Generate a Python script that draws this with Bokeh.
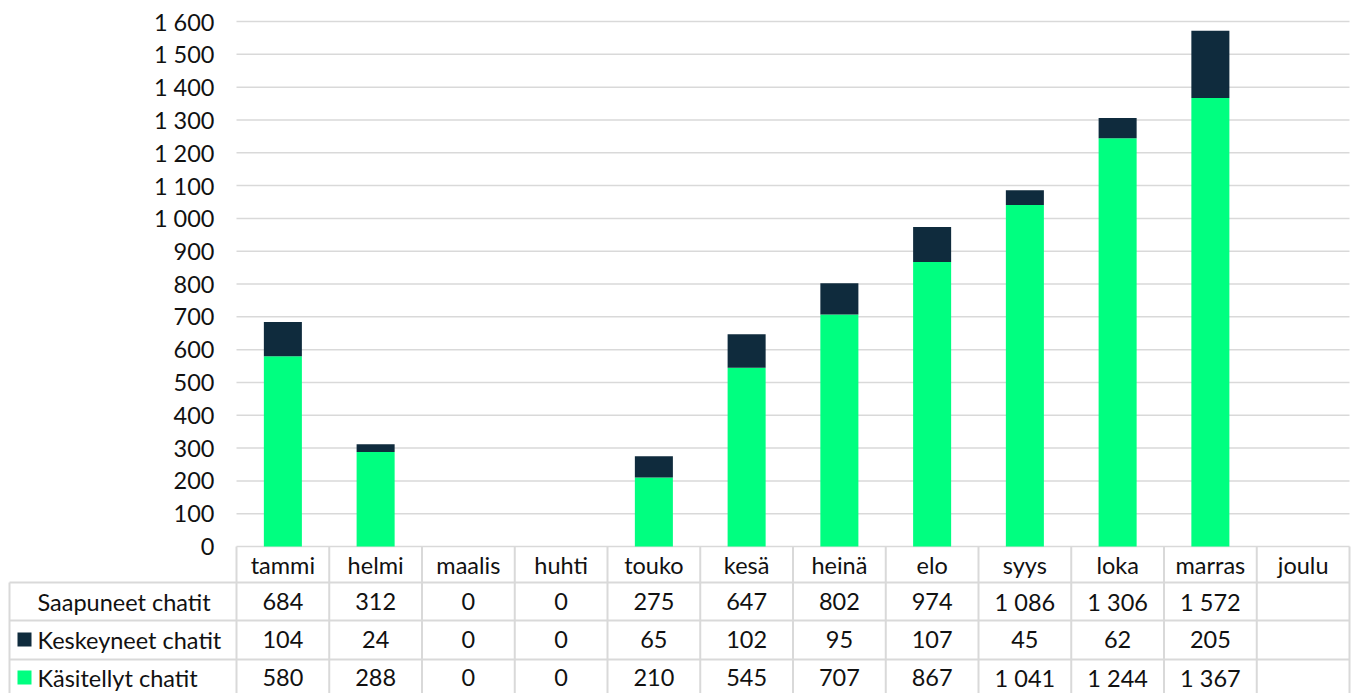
from bokeh.plotting import figure
from bokeh.models import Range1d
from bokeh.core.properties import value
from bokeh.embed import file_html
from bokeh.resources import INLINE

months = ["tammi", "helmi", "maalis", "huhti", "touko", "kesä", "heinä", "elo", "syys", "loka", "marras", "joulu"]
saapuneet = [684, 312, 0, 0, 275, 647, 802, 974, 1086, 1306, 1572, None]
keskeyneet = [104, 24, 0, 0, 65, 102, 95, 107, 45, 62, 205, None]
kasitellyt = [580, 288, 0, 0, 210, 545, 707, 867, 1041, 1244, 1367, None]
row_names = ["Saapuneet chatit", "Keskeyneet chatit", "Käsitellyt chatit"]
y_ticks = [0, 100, 200, 300, 400, 500, 600, 700, 800, 900, 1000, 1100, 1200, 1300, 1400, 1500, 1600]

GREEN = "#00FF80"
NAVY = "#0F2B3D"
GRID = "#D9D9D9"
FONT = "Lato"
FS = "23.5px"
TXT = "#111111"


def fmt(v):
    if v is None:
        return ""
    return f"{v:,}".replace(",", " ")


# layout geometry (page pixels)
ORIGIN = 1            # where the figure starts on the page
PLOT_L = 237          # left edge of the category area
CAT_W = 92.75         # width of one category column
ZERO_Y = 547          # pixel row of value 0
TOP_Y = 22            # pixel row of value 1600
K = 1600 / (ZERO_Y - TOP_Y)


def px2x(px):
    return (px - PLOT_L) / CAT_W


def px2y(py):
    return (ZERO_Y - py) * K


FR_L, FR_R, FR_T, FR_B = 8, 1352, 8, 694
n = len(months)

p = figure(width=FR_R - ORIGIN, height=FR_B - ORIGIN,
           output_backend="svg", toolbar_location=None,
           x_range=Range1d(px2x(FR_L), px2x(FR_R)),
           y_range=Range1d(px2y(FR_B), px2y(FR_T)),
           min_border_left=FR_L - ORIGIN, min_border_right=0,
           min_border_top=FR_T - ORIGIN, min_border_bottom=0)
p.outline_line_color = None
p.axis.visible = False
p.grid.visible = False
p.background_fill_color = "white"
p.border_fill_color = "white"

# value grid lines
p.segment(x0=[0] * len(y_ticks), y0=y_ticks, x1=[n] * len(y_ticks), y1=y_ticks,
          line_color=GRID, line_width=1.5)
# value axis labels
p.text(x=[px2x(215)] * len(y_ticks), y=y_ticks, text=[fmt(t) for t in y_ticks],
       text_font=value(FONT), text_font_size=FS, text_color=TXT,
       text_align="right", text_baseline="middle")

# stacked bars
idx = [i for i, v in enumerate(kasitellyt) if v is not None]
bx = [i + 0.5 for i in idx]
k_top = [kasitellyt[i] for i in idx]
s_top = [kasitellyt[i] + keskeyneet[i] for i in idx]
p.vbar(x=bx, width=0.41, bottom=0, top=k_top, fill_color=GREEN, line_color=None)
p.vbar(x=bx, width=0.41, bottom=k_top, top=s_top, fill_color=NAVY, line_color=None)

# ---------------- data table ----------------
left = px2x(10)
row_lines = [px2y(583), px2y(621), px2y(660)]
row_c = [px2y(602), px2y(640), px2y(678)]
head_c = px2y(565)
bottom = px2y(FR_B + 5)

p.segment(x0=[left] * 3, y0=row_lines, x1=[n] * 3, y1=row_lines, line_color=GRID, line_width=2)
p.segment(x0=list(range(n + 1)), y0=[0] * (n + 1), x1=list(range(n + 1)), y1=[bottom] * (n + 1),
          line_color=GRID, line_width=2)
p.segment(x0=[left], y0=[row_lines[0]], x1=[left], y1=[bottom], line_color=GRID, line_width=2)

cx = [i + 0.5 for i in range(n)]
p.text(x=cx, y=[head_c] * n, text=months,
       text_font=value(FONT), text_font_size=FS, text_color=TXT,
       text_align="center", text_baseline="middle")
for r, vals in enumerate([saapuneet, keskeyneet, kasitellyt]):
    p.text(x=cx, y=[row_c[r]] * n, text=[fmt(v) for v in vals],
           text_font=value(FONT), text_font_size=FS, text_color=TXT,
           text_align="center", text_baseline="middle")

p.text(x=[px2x(38)] * 3, y=row_c, text=row_names,
       text_font=value(FONT), text_font_size=FS, text_color=TXT,
       text_align="left", text_baseline="middle")
p.scatter(x=[px2x(25)] * 2, y=row_c[1:], marker="square", size=14,
          fill_color=[NAVY, GREEN], line_color=None)

open("out.html", "w").write(file_html(p, INLINE))
